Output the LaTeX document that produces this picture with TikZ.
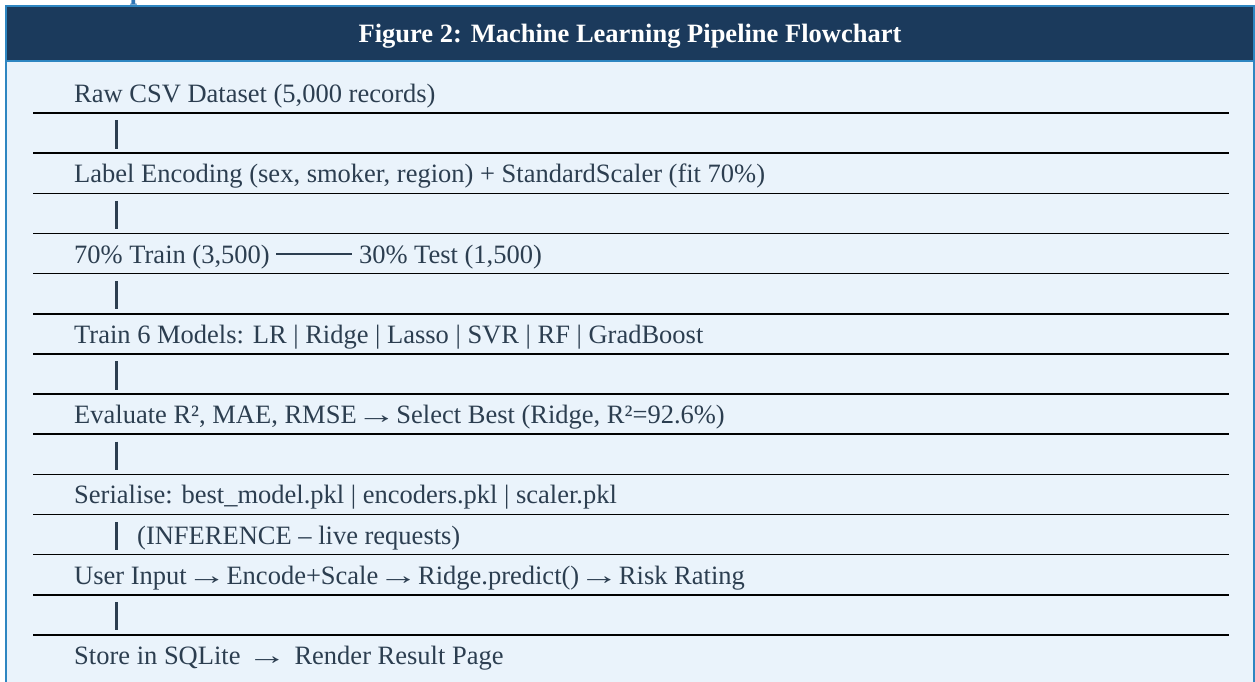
\documentclass[tikz,border=0pt]{standalone}
\usepackage{graphicx}
\usepackage{fontspec}
\setmainfont{Liberation Serif}
\definecolor{navy}{HTML}{1B3A5C}
\definecolor{frameblue}{HTML}{2E86C1}
\definecolor{panelbg}{HTML}{EAF3FB}
\definecolor{slate}{HTML}{2C3E50}
\definecolor{headblue}{HTML}{2E75B6}
% long thin text arrow, stretched inside the advance width of the plain glyph
\newsavebox{\arrowwidthbox}
\newcommand{\steparrow}{\sbox{\arrowwidthbox}{→}\makebox[\wd\arrowwidthbox][c]{\scalebox{1.5}[1]{→}}}
\begin{document}
\begin{tikzpicture}[x=1pt,y=-1pt,
  rowtext/.style={anchor=base west, inner sep=0pt, text=slate,
    font=\fontsize{26.5}{30}\selectfont},
  titletext/.style={anchor=base, inner sep=0pt, text=white,
    font=\bfseries\fontsize{26.5}{30}\selectfont},
  sepline/.style={draw=black, line width=1.5pt},
  vbar/.style={draw=slate, line width=2.6pt},
  frame/.style={draw=frameblue, line width=2pt},
]
\useasboundingbox (0,0) rectangle (1255,682);

% section heading above the panel (mostly cut off by the page edge)
\begin{scope}
  \clip (0,0) rectangle (1255,5.5);
  \node[anchor=base west, inner sep=0pt, text=headblue,
        font=\bfseries\fontsize{26.5}{30}\selectfont] (sec) at (17,-0.5) {5.2 ML Pipeline Flowchart};
\end{scope}

% panel: light body, navy title bar, blue frame open at the bottom
\fill[panelbg] (6,6) rectangle (1254,700);
\fill[navy] (6,6) rectangle (1254,61);
\draw[frame] (6,700) -- (6,6.5) -- (1254,6.5) -- (1254,700);
\draw[frame] (6,61) -- (1254,61);
\node[titletext] (title) at (630,43) {Figure 2: Machine Learning Pipeline Flowchart};

% row separators
\foreach \k in {0,...,13}{
  \draw[sepline] (33,{113+40.15*\k}) -- (1229,{113+40.15*\k});
}

% pipeline steps
\node[rowtext] (r1) at (74,102.5) {Raw CSV Dataset (5,000 records)};
\node[rowtext] (r2) at (74,182.8) {Label Encoding (sex, smoker, region) + StandardScaler (fit 70\%)};
\node[rowtext] (r3) at (74,263.1) {70\% Train (3,500) \rule[8.5pt]{76pt}{1.3pt} 30\% Test (1,500)};
\node[rowtext] (r4) at (74,343.4) {Train 6 Models: LR | Ridge | Lasso | SVR | RF | GradBoost};
\node[rowtext] (r5) at (74,423.7) {Evaluate R², MAE, RMSE \steparrow{} Select Best (Ridge, R²=92.6\%)};
\node[rowtext] (r6) at (74,503.5) {Serialise: best\_model.pkl | encoders.pkl | scaler.pkl};
\node[rowtext] (inf) at (137,544.2) {(INFERENCE – live requests)};
\node[rowtext] (r7) at (74,584.3) {User Input \steparrow{} Encode+Scale \steparrow{} Ridge.predict() \steparrow{} Risk Rating};
\node[rowtext] (r8) at (74,664.6) {Store in SQLite~~\steparrow~~\hspace{1pt}Render Result Page};

% vertical connectors between consecutive steps
\foreach \k/\a in {0/1,2/2,4/3,6/4,8/5,10/6,12/7}{
  \coordinate (top\a) at (116.5,{113+40.15*\k+7.5});
  \coordinate (bot\a) at (116.5,{113+40.15*(\k+1)-4.5});
  \draw[vbar] (top\a) -- (bot\a);
}
\end{tikzpicture}
\end{document}
